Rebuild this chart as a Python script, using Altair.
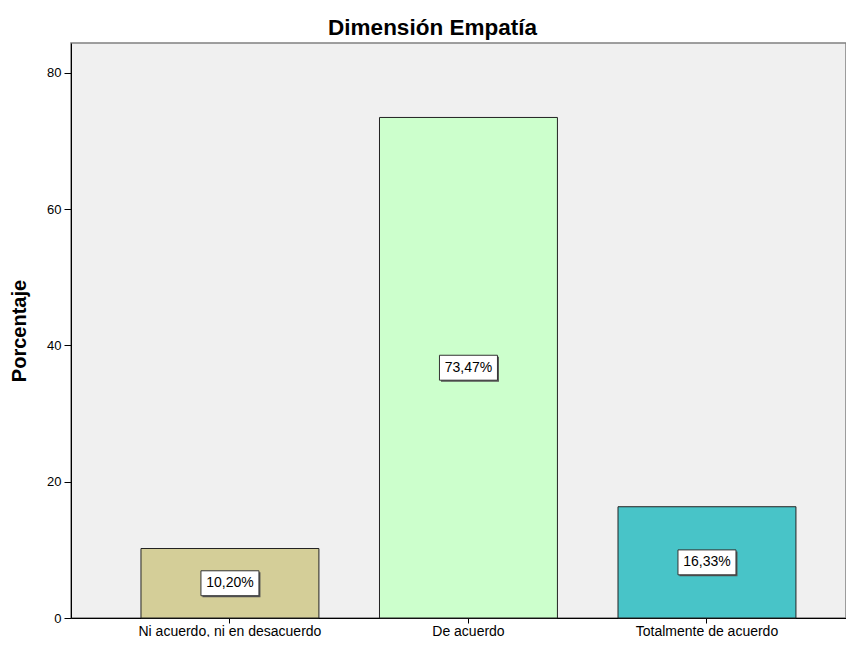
import altair as alt
import pandas as pd

categories = ["Ni acuerdo, ni en desacuerdo", "De acuerdo", "Totalmente de acuerdo"]
values = [10.20, 73.47, 16.33]
labels = ["10,20%", "73,47%", "16,33%"]
colors = ["#D4CE98", "#CCFFCC", "#48C4C8"]

df = pd.DataFrame({"cat": categories, "val": values, "lab": labels,
                   "mid": [v / 2 for v in values]})

x = alt.X("cat:N", sort=categories, title=None,
          scale=alt.Scale(paddingInner=0.254, paddingOuter=0.2516, align=0.583),
          axis=alt.Axis(labelAngle=0, labelFont="Arial", labelFontSize=14,
                        labelLimit=0, labelColor="black", domainColor="black",
                        tickColor="black", tickSize=5, labelPadding=1))

bars = alt.Chart(df).mark_bar(stroke="#222222", strokeWidth=1).encode(
    x=x,
    y=alt.Y("val:Q", title="Porcentaje",
            scale=alt.Scale(domain=[0, 84.4], nice=False),
            axis=alt.Axis(values=[0, 20, 40, 60, 80], grid=False, labelFont="Arial",
                          labelFontSize=13, labelColor="black", domainColor="black",
                          tickColor="black", tickSize=7, labelPadding=3,
                          titleFont="Arial", titleFontSize=20, titleFontWeight="bold",
                          titleColor="black", titlePadding=17)),
    color=alt.Color("cat:N", sort=categories,
                    scale=alt.Scale(domain=categories, range=colors), legend=None),
)

box_shadow = alt.Chart(df).mark_point(
    shape="M-1,-0.43 H1 V0.43 H-1 Z", size=58 * 58, filled=True,
    fill="#555555", opacity=1, xOffset=1.5, yOffset=1.5
).encode(x=alt.X("cat:N", sort=categories), y=alt.Y("mid:Q"))

boxes = alt.Chart(df).mark_point(
    shape="M-1,-0.43 H1 V0.43 H-1 Z", size=58 * 58, filled=True,
    fill="white", stroke="#333333", strokeWidth=1, opacity=1
).encode(x=alt.X("cat:N", sort=categories), y=alt.Y("mid:Q"))

text = alt.Chart(df).mark_text(font="Arial", fontSize=14, color="black",
                               baseline="middle", align="center").encode(
    x=alt.X("cat:N", sort=categories), y=alt.Y("mid:Q"), text="lab:N")

chart = alt.layer(bars, box_shadow, boxes, text).properties(
    width=775, height=575,
    autosize=alt.AutoSizeParams(type="none"),
    padding={"left": 63, "top": 35, "right": 0, "bottom": 19},
    title=alt.TitleParams("Dimensión Empatía", font="Arial", fontSize=22.5,
                          fontWeight="bold", color="black", anchor="middle",
                          dx=-26, offset=4),
).configure_view(fill="#F0F0F0", stroke="#808080", strokeWidth=1.5)

chart.save("out.html", embed_options={"renderer": "svg", "actions": False})
